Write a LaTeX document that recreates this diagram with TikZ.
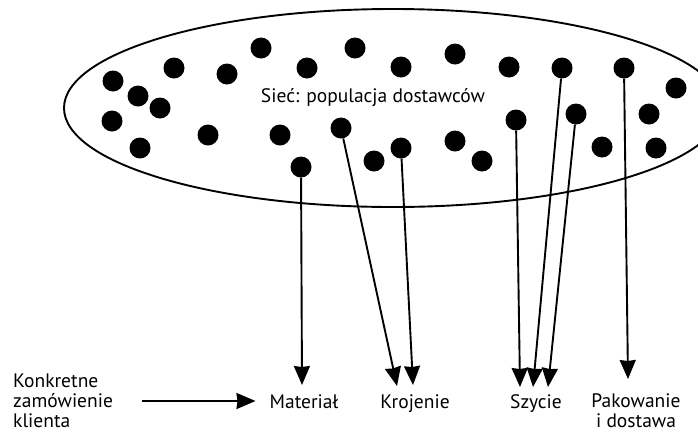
\documentclass[tikz,border=0pt]{standalone}
\usepackage{fontspec}
\setmainfont{PT Sans}
\usetikzlibrary{arrows.meta}
\tikzset{
  supplier/.style={circle,fill=black,minimum size=21pt,inner sep=0pt},
  stagelabel/.style={font=\fontsize{19.5}{20}\selectfont,inner sep=1pt,
    text height=13pt,text depth=3pt},
  blocklabel/.style={font=\fontsize{19.5}{20}\selectfont,inner sep=1pt},
  flowarrow/.style={-{Stealth[length=19pt,width=16pt,inset=1pt]},line width=1.9pt},
}

\begin{document}
\begin{tikzpicture}[x=1pt,y=-1pt]
    \useasboundingbox (0,0) rectangle (698,432);
    \clip (0,0) rectangle (698,432);
    % network of suppliers
    \draw[line width=1.9pt] (393,108) ellipse [x radius=329pt,y radius=99pt];
    \node[blocklabel] (network) at (373,98) {Sieć: populacja dostawców};
    \foreach \px/\py [count=\i] in {261/48,355/48,174/68,227/74,307/68,401/67,
        455/54,509/67,676/88,113/81,138/96,160/108,112/121,140/148,208/135,
        280/135,374/161,455/141,482/161,649/114,602/147,656/148}
      \node[supplier] (s\i) at (\px,\py) {};
    \node[supplier] (matdot) at (301,167) {};
    \node[supplier] (krodot1) at (341,128) {};
    \node[supplier] (krodot2) at (401,148) {};
    \node[supplier] (szydot1) at (516,120) {};
    \node[supplier] (szydot2) at (562,68) {};
    \node[supplier] (szydot3) at (576,114) {};
    \node[supplier] (pakdot) at (624,68) {};
    % process steps
    \node[blocklabel,align=left,anchor=west] (order) at (12,401)
      {Konkretne\\zamówienie\\klienta};
    \node[stagelabel] (material) at (304,403) {Materiał};
    \node[stagelabel] (krojenie) at (415,403) {Krojenie};
    \node[stagelabel] (szycie) at (536,403) {Szycie};
    \node[blocklabel,align=center] (pakowanie) at (636,411) {Pakowanie\\i dostawa};
    \coordinate (mattip) at (302,385);
    \coordinate (krotip1) at (397,386);
    \coordinate (krotip2) at (413,385);
    \coordinate (szytip1) at (520,387);
    \coordinate (szytip2) at (533,387);
    \coordinate (szytip3) at (548,387);
    \coordinate (paktip) at (628,379);
    \draw[flowarrow] (matdot) -- (mattip);
    \draw[flowarrow] (krodot1) -- (krotip1);
    \draw[flowarrow] (krodot2) -- (krotip2);
    \draw[flowarrow] (szydot1) -- (szytip1);
    \draw[flowarrow] (szydot2) -- (szytip2);
    \draw[flowarrow] (szydot3) -- (szytip3);
    \draw[flowarrow] (pakdot) -- (paktip);
    \draw[flowarrow,shorten <=28pt,shorten >=13pt] (order.east) -- (order.east -| material.west);
  \end{tikzpicture}
\end{document}
